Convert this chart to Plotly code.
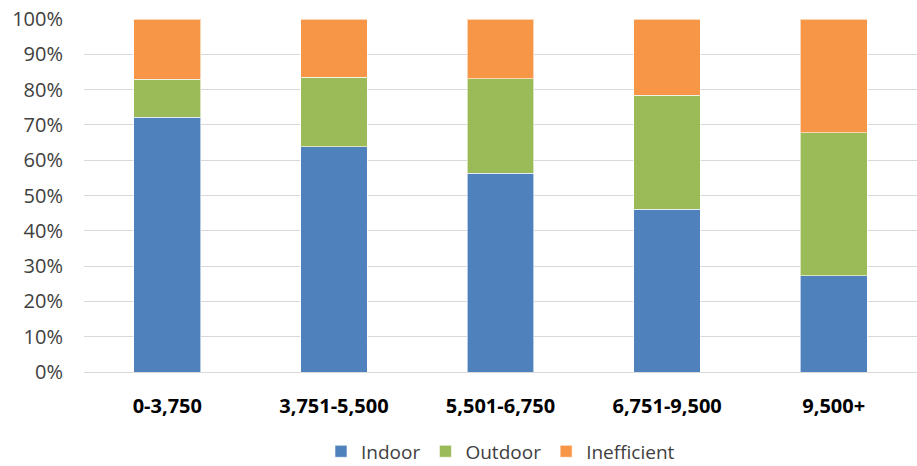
import plotly.graph_objects as go

categories = ["0-3,750", "3,751-5,500", "5,501-6,750", "6,751-9,500", "9,500+"]
indoor = [72.1, 63.8, 56.3, 46.1, 27.2]
outdoor = [10.9, 19.7, 26.8, 32.3, 40.6]
inefficient = [17.0, 16.5, 16.9, 21.6, 32.2]
y_ticks = [0, 10, 20, 30, 40, 50, 60, 70, 80, 90, 100]

series = [
    ("Indoor", indoor, "#4F81BD"),
    ("Outdoor", outdoor, "#9BBB59"),
    ("Inefficient", inefficient, "#F79646"),
]

fig = go.Figure()
for name, vals, color in series:
    fig.add_trace(go.Bar(
        name=name, x=categories, y=vals,
        marker=dict(color=color, line=dict(color="rgba(255,255,255,0.6)", width=1)),
    ))

fig.update_layout(
    barmode="stack",
    bargap=0.6,
    width=917, height=466,
    margin=dict(l=84, r=0, t=19, b=94, autoexpand=False),
    paper_bgcolor="white", plot_bgcolor="white",
    font=dict(family="Open Sans", size=20, color="#404040"),
    showlegend=True,
    legend=dict(orientation="h", x=0.5, xanchor="center", y=-0.225, yanchor="middle",
                font=dict(size=19, color="#404040"), traceorder="normal",
                itemwidth=30, borderwidth=0),
    xaxis=dict(
        tickfont=dict(family="Open Sans", size=20, color="#000000", weight="bold"),
        showgrid=False, showline=False, ticks="", ticklabelstandoff=20,
    ),
    yaxis=dict(
        range=[0, 100], tickvals=y_ticks, ticktext=[f"{v}%" for v in y_ticks],
        showgrid=True, gridcolor="#D9D9D9", gridwidth=1,
        zeroline=True, zerolinecolor="#D9D9D9", zerolinewidth=1,
        ticks="", ticklabelstandoff=20,
    ),
)

fig.write_html("out.html")
